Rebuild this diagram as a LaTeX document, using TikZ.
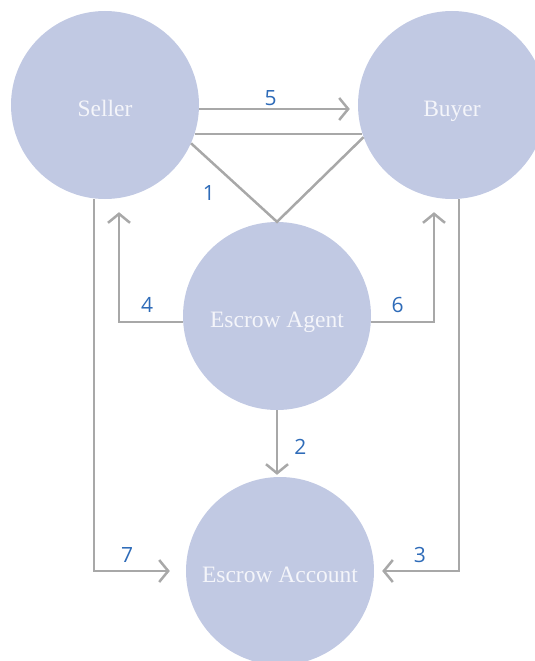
\documentclass[tikz,border=0pt]{standalone}
\usepackage{fontspec}
\usepackage{tikz}
\usetikzlibrary{arrows.meta}
\newfontfamily\numfont{Open Sans}
\newfontfamily\partyfont{Liberation Serif}
\definecolor{partyfill}{HTML}{C1C9E3}
\definecolor{flowgray}{HTML}{A8A8A8}
\definecolor{stepblue}{HTML}{2E6BB8}
\definecolor{partytext}{HTML}{F4F5FA}
\newcommand{\dia}[0] {188pt}

\begin{document}
\begin{tikzpicture}[x=1pt,y=-1pt,
        party/.style={shape=circle,fill=partyfill,minimum size=\dia,inner sep=0pt,
            text=partytext,text height=22pt,text depth=0pt,font=\partyfont\fontsize{23.5}{26}\selectfont},
        flow/.style={draw=flowgray,line width=2.5pt},
        tip/.style={-{Straight Barb[length=9pt,width=22pt,line width=2.5pt]}},
        num/.style={text=stepblue,inner sep=2pt,font=\numfont\fontsize{21}{24}\selectfont}]
        \useasboundingbox (0,0) rectangle (535,661);

        \node[party] (seller) at (105,105)     {Seller};
        \node[party] (buyer) at (452,105)     {Buyer};
        \node[party] (agent) at (277,316)     {Escrow Agent};
        \node[party] (account) at (280,571)     {Escrow Account};

        %edges with numbers
        \draw[flow,tip,shorten >=8pt] ([yshift=-4pt]seller.east) -- node[num,above,pos=0.45]{5} ([yshift=-4pt]buyer.west);
        \draw[flow] (seller.-18) -- (buyer.198);
        \draw[flow] (seller.-24) -- (agent.north) -- (buyer.200);
        \node[num] (one) at (209,193) {1};
        \draw[flow,tip,shorten >=2pt] (agent.south) -- node[num,right=14pt,pos=0.55]{2} (agent.south |- account.north);
        \draw[flow,tip,shorten >=8pt] ([xshift=7pt]buyer.south) |- node[num,above=5pt,pos=0.73]{3} (account.east);
        \draw[flow,tip,shorten >=13pt] ([yshift=-6pt]agent.west) -| node[num,above=6pt,pos=0.28]{4} ([xshift=14pt]seller.south);
        \draw[flow,tip,shorten >=13pt] ([yshift=-6pt]agent.east) -| node[num,above=6pt,pos=0.21]{6} ([xshift=-18pt]buyer.south);
        \draw[flow,tip,shorten >=16pt] ([xshift=-11pt]seller.south) |- node[num,above=5pt,pos=0.68]{7} (account.west);
\end{tikzpicture}
\end{document}
